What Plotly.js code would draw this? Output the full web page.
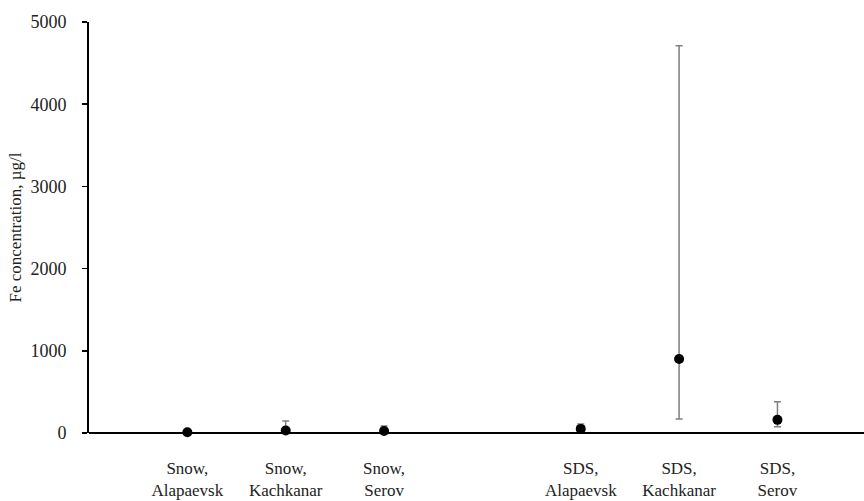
<!DOCTYPE html>
<html>
<head>
<meta charset="utf-8">
<script src="https://cdn.plot.ly/plotly-3.0.1.min.js"></script>
<style>html,body{margin:0;padding:0;background:#fff;}#chart{width:864px;height:501px;}</style>
</head>
<body>
<div id="chart"></div>
<script>
const categories = ["Snow,<br>Alapaevsk", "Snow,<br>Kachkanar", "Snow,<br>Serov", "SDS,<br>Alapaevsk", "SDS,<br>Kachkanar", "SDS,<br>Serov"];
const positions = [1, 2, 3, 5, 6, 7];
const values = [10, 30, 25, 50, 900, 160];
const errPlus = [20, 115, 60, 60, 3810, 220];
const errMinus = [10, 30, 25, 20, 730, 85];

const FONT = "Times New Roman";

const trace = {
  x: positions,
  y: values,
  type: "scatter",
  mode: "markers",
  marker: {color: "#000", size: 10},
  error_y: {type: "data", symmetric: false, array: errPlus, arrayminus: errMinus,
            color: "#7f7f7f", thickness: 1.5, width: 3.5},
  cliponaxis: false,
  hoverinfo: "skip"
};

const layout = {
  width: 864, height: 501,
  margin: {l: 89, r: 0, t: 22, b: 68},
  paper_bgcolor: "#fff", plot_bgcolor: "#fff",
  showlegend: false,
  font: {family: FONT, size: 17, color: "#222"},
  xaxis: {
    range: [0, 7.88],
    tickvals: positions,
    ticktext: categories,
    showgrid: false, zeroline: false,
    showline: false,
    ticks: "",
    ticklabelstandoff: 23,
    tickfont: {family: FONT, size: 17, color: "#222"},
    fixedrange: true
  },
  yaxis: {
    range: [0, 5000],
    tickvals: [0, 1000, 2000, 3000, 4000, 5000],
    showgrid: false,
    zeroline: true, zerolinecolor: "#000", zerolinewidth: 2,
    showline: true, linecolor: "#000", linewidth: 2,
    ticks: "outside", ticklen: 5, tickwidth: 1.5, tickcolor: "#000",
    ticklabelstandoff: 12,
    tickfont: {family: FONT, size: 18, color: "#222"},
    title: {text: "Fe concentration, µg/l", font: {family: FONT, size: 17, color: "#222"}, standoff: 4},
    fixedrange: true
  }
};

Plotly.newPlot("chart", [trace], layout, {displayModeBar: false, staticPlot: true});
</script>
</body>
</html>
